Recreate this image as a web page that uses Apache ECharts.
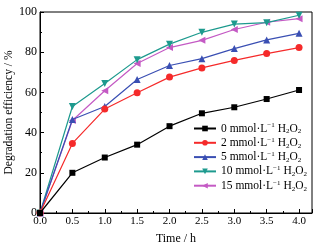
<!DOCTYPE html>
<html>
<head>
<meta charset="utf-8">
<script src="https://cdn.jsdelivr.net/npm/echarts@6/dist/echarts.min.js"></script>
<style>
  html, body { margin: 0; padding: 0; background: #fff; }
  #chart { width: 320px; height: 250px; }
</style>
</head>
<body>
<div id="chart"></div>
<script>
  // 时间点 (h)
  const times = [0, 0.5, 1.0, 1.5, 2.0, 2.5, 3.0, 3.5, 4.0];

  // H2O2 浓度 (mmol/L)
  const concentrations = [0, 2, 5, 10, 15];

  // 降解效率 (%)
  const eff0 = [0, 20, 27.6, 34, 43.2, 49.6, 52.6, 56.7, 61.2];
  const eff2 = [0, 34.6, 51.7, 59.8, 67.6, 72.2, 75.9, 79.3, 82.3];
  const eff5 = [0, 46.5, 53, 66.4, 73.4, 76.8, 81.8, 86.1, 89.4];
  const eff10 = [0, 53, 64.4, 76.3, 84, 89.9, 94, 94.7, 98.4];
  const eff15 = [0, 46, 60.8, 74.4, 82.3, 85.9, 91.3, 94.9, 96.7];

  const allData = [eff0, eff2, eff5, eff10, eff15];
  const colors = ['#000000', '#f52a2a', '#3a4fb3', '#1d9a8e', '#c45ac4'];
  const symbols = ['rect', 'circle', 'triangle', 'triangle', 'triangle'];
  const rotations = [0, 0, 0, 180, 90];

  const font = 'Liberation Serif, Times New Roman, serif';
  const names = concentrations.map((c) => c + ' mmol·L-1 H2O2');

  const chart = echarts.init(document.getElementById('chart'));

  const series = allData.map((vals, i) => ({
    name: names[i],
    type: 'line',
    data: times.map((t, j) => [t, vals[j]]),
    symbol: symbols[i],
    symbolRotate: rotations[i],
    symbolSize: i === 0 ? 6 : 7,
    showAllSymbol: true,
    lineStyle: { color: colors[i], width: 1.2 },
    itemStyle: { color: colors[i] },
    z: 10 - i,
  }));

  const option = {
    animation: false,
    backgroundColor: '#fff',
    textStyle: { fontFamily: font, color: '#000' },
    grid: {
      left: 40,
      right: 8,
      top: 12,
      bottom: 37,
      outerBoundsMode: 'none',
      containLabel: false,
      show: true,
      borderColor: '#000',
      borderWidth: 1,
    },
    legend: {
      orient: 'vertical',
      left: 188,
      top: 117,
      itemWidth: 22,
      itemHeight: 7,
      itemGap: 1.3,
      data: names,
      formatter: (name) => {
        const c = name.split(' ')[0];
        return c + ' mmol·L{sup|−1} H{sub|2}O{sub|2}';
      },
      textStyle: {
        fontFamily: font,
        fontSize: 11.5,
        color: '#000',
        lineHeight: 13,
        rich: {
          sup: { fontSize: 7, fontFamily: font, verticalAlign: 'top', lineHeight: 13 },
          sub: { fontSize: 7, fontFamily: font, verticalAlign: 'bottom', lineHeight: 9, padding: [6, 0, 0, 0] },
        },
      },
    },
    xAxis: {
      type: 'value',
      min: 0,
      max: 4.2,
      interval: 0.5,
      name: 'Time / h',
      nameLocation: 'middle',
      nameGap: 20,
      nameMoveOverlap: false,
      nameTextStyle: { fontFamily: font, fontSize: 12, color: '#000' },
      axisLine: { show: true, lineStyle: { color: '#000', width: 1 } },
      axisTick: { inside: true, length: 4, lineStyle: { color: '#000' } },
      minorTick: { show: true, splitNumber: 2, length: 2, lineStyle: { color: '#000' } },
      splitLine: { show: false },
      axisLabel: {
        fontFamily: font,
        fontSize: 11,
        color: '#000',
        margin: 3,
        formatter: (v) => (v > 4.05 ? '' : v.toFixed(1)),
      },
    },
    yAxis: {
      type: 'value',
      min: 0,
      max: 100,
      interval: 20,
      name: 'Degradation efficiency / %',
      nameLocation: 'middle',
      nameGap: 25,
      nameMoveOverlap: false,
      nameTextStyle: { fontFamily: font, fontSize: 11.5, color: '#000' },
      axisLine: { show: true, lineStyle: { color: '#000', width: 1 } },
      axisTick: { inside: true, length: 4, lineStyle: { color: '#000' } },
      minorTick: { show: true, splitNumber: 2, length: 2, lineStyle: { color: '#000' } },
      splitLine: { show: false },
      axisLabel: {
        fontFamily: font,
        fontSize: 12,
        color: '#000',
        margin: 3,
      },
    },
    series: series,
  };

  chart.setOption(option);
</script>
</body>
</html>
